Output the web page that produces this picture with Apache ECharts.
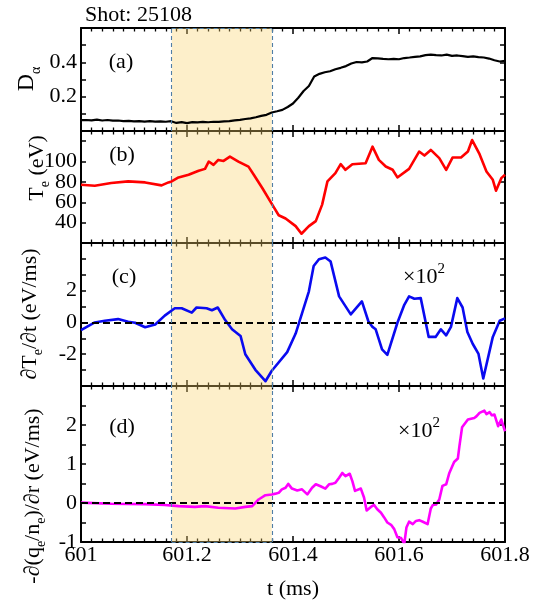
<!DOCTYPE html>
<html>
<head>
<meta charset="utf-8">
<script src="https://cdn.jsdelivr.net/npm/echarts@6/dist/echarts.min.js"></script>
<style>
  html, body { margin: 0; padding: 0; background: #ffffff; }
  #chart { width: 539px; height: 601px; }
</style>
</head>
<body>
<div id="chart"></div>
<script>
// ---- data ----------------------------------------------------------------
// shot and highlighted time window (ms)
const shotLabel = 'Shot: 25108';
const windowStart = 601.171;
const windowEnd = 601.36;

// (a) D-alpha signal
const tDa = [
  601.00, 601.01, 601.02, 601.03, 601.04, 601.05, 601.06, 601.07, 601.08, 601.09,
  601.10, 601.11, 601.12, 601.13, 601.14, 601.15, 601.16, 601.17, 601.18, 601.19,
  601.20, 601.21, 601.22, 601.23, 601.24, 601.25, 601.26, 601.27, 601.28, 601.29,
  601.30, 601.31, 601.32, 601.33, 601.34, 601.35, 601.36, 601.37, 601.38, 601.39,
  601.40, 601.41, 601.42, 601.43, 601.44, 601.45, 601.46, 601.47, 601.48, 601.49,
  601.50, 601.51, 601.52, 601.53, 601.54, 601.55, 601.56, 601.57, 601.58, 601.59,
  601.60, 601.61, 601.62, 601.63, 601.64, 601.65, 601.66, 601.67, 601.68, 601.69,
  601.70, 601.71, 601.72, 601.73, 601.74, 601.75, 601.76, 601.77, 601.78, 601.79,
  601.80
];
const dAlpha = [
  0.063, 0.064, 0.062, 0.066, 0.061, 0.064, 0.060, 0.061, 0.058, 0.059,
  0.056, 0.058, 0.055, 0.057, 0.055, 0.056, 0.054, 0.057, 0.047, 0.052,
  0.046, 0.052, 0.050, 0.053, 0.051, 0.054, 0.053, 0.056, 0.058, 0.062,
  0.065, 0.070, 0.074, 0.080, 0.088, 0.094, 0.108, 0.115, 0.123, 0.140,
  0.160, 0.194, 0.233, 0.262, 0.318, 0.333, 0.342, 0.348, 0.360, 0.368,
  0.378, 0.393, 0.402, 0.400, 0.405, 0.425, 0.423, 0.420, 0.418, 0.420,
  0.418, 0.425, 0.428, 0.432, 0.435, 0.442, 0.445, 0.442, 0.440, 0.445,
  0.438, 0.440, 0.436, 0.432, 0.435, 0.430, 0.428, 0.422, 0.412, 0.405,
  0.408
];

// (b) electron temperature, eV
const tTe = [
  601.000, 601.026, 601.057, 601.089, 601.121, 601.152, 601.165, 601.171, 601.184, 601.203,
  601.222, 601.234, 601.241, 601.250, 601.259, 601.269, 601.281, 601.297, 601.316, 601.326,
  601.342, 601.360, 601.373, 601.386, 601.405, 601.416, 601.430, 601.443, 601.455, 601.465,
  601.480, 601.490, 601.499, 601.512, 601.537, 601.550, 601.562, 601.575, 601.588, 601.597,
  601.619, 601.638, 601.648, 601.660, 601.676, 601.689, 601.701, 601.717, 601.730, 601.738,
  601.752, 601.765, 601.777, 601.783, 601.793, 601.800
];
const te = [
  77.2, 76.3, 78.9, 80.5, 79.5, 76.6, 79.5, 80.5, 84.4, 87.0,
  90.9, 92.8, 100.0, 96.7, 101.6, 100.6, 104.9, 100.0, 95.0, 87.0,
  74.0, 58.4, 47.3, 44.1, 36.6, 29.1, 36.6, 41.5, 57.7, 80.5,
  88.6, 97.4, 91.9, 97.4, 98.4, 114.6, 101.6, 95.1, 91.9, 84.4,
  92.8, 109.8, 105.9, 111.4, 103.3, 91.9, 103.9, 103.9, 109.8, 121.1,
  107.2, 90.2, 82.1, 71.4, 83.7, 87.0
];

// (c) dTe/dt, units of 1e2 eV/ms
const tDTe = [
  601.000, 601.026, 601.045, 601.070, 601.089, 601.102, 601.121, 601.140, 601.158, 601.177,
  601.190, 601.209, 601.218, 601.237, 601.247, 601.258, 601.272, 601.285, 601.301, 601.310,
  601.329, 601.348, 601.360, 601.389, 601.405, 601.417, 601.430, 601.439, 601.449, 601.461,
  601.471, 601.487, 601.509, 601.530, 601.542, 601.550, 601.556, 601.568, 601.578, 601.597,
  601.610, 601.619, 601.629, 601.641, 601.656, 601.669, 601.679, 601.689, 601.698, 601.710,
  601.720, 601.729, 601.739, 601.750, 601.759, 601.777, 601.790, 601.800
];
const dTeDt = [
  -0.49, 0.00, 0.11, 0.21, 0.04, -0.02, -0.30, -0.13, 0.43, 0.89,
  0.89, 0.62, 0.94, 0.89, 0.77, 0.94, 0.15, -0.43, -0.85, -2.00,
  -2.98, -3.70, -3.04, -1.87, -0.70, 0.57, 1.96, 3.55, 3.98, 4.09,
  3.83, 1.64, 0.51, 1.32, 0.09, -0.28, -0.43, -1.70, -2.04, -0.02,
  1.11, 1.64, 1.49, 1.53, -0.91, -0.91, -0.43, -0.81, -0.28, 1.53,
  0.94, -0.60, -1.34, -1.98, -3.53, -0.91, 0.11, 0.26
];

// (d) -d(qe/ne)/dr, units of 1e2 eV/ms
const tFlux = [
  601.000, 601.057, 601.121, 601.158, 601.184, 601.215, 601.234, 601.259, 601.291, 601.310,
  601.323, 601.335, 601.348, 601.360, 601.367, 601.373, 601.379, 601.386, 601.391, 601.398,
  601.408, 601.417, 601.427, 601.430, 601.436, 601.443, 601.452, 601.461, 601.468, 601.474,
  601.480, 601.487, 601.493, 601.499, 601.507, 601.512, 601.517, 601.528, 601.534, 601.539,
  601.547, 601.553, 601.559, 601.566, 601.572, 601.578, 601.585, 601.591, 601.597, 601.604,
  601.610, 601.614, 601.619, 601.626, 601.632, 601.638, 601.645, 601.654, 601.660, 601.664,
  601.670, 601.676, 601.682, 601.689, 601.695, 601.704, 601.711, 601.714, 601.719, 601.724,
  601.730, 601.742, 601.746, 601.752, 601.761, 601.765, 601.771, 601.775, 601.780, 601.787,
  601.793, 601.800
];
const fluxDiv = [
  0.01, -0.02, -0.03, -0.05, -0.08, -0.10, -0.08, -0.12, -0.14, -0.10,
  -0.08, 0.09, 0.20, 0.22, 0.24, 0.26, 0.35, 0.39, 0.49, 0.37,
  0.32, 0.35, 0.22, 0.18, 0.39, 0.48, 0.43, 0.37, 0.48, 0.49,
  0.52, 0.65, 0.77, 0.69, 0.75, 0.56, 0.31, 0.37, 0.14, -0.19,
  -0.10, -0.05, -0.16, -0.25, -0.37, -0.50, -0.56, -0.67, -0.88, -0.90,
  -1.04, -0.63, -0.48, -0.54, -0.46, -0.44, -0.48, -0.54, -0.14, -0.05,
  -0.04, 0.09, 0.44, 0.48, 0.77, 1.05, 1.14, 1.46, 1.94, 2.03,
  2.14, 2.18, 2.22, 2.31, 2.37, 2.28, 2.33, 2.25, 2.27, 1.97,
  2.14, 1.84
];

// axis ranges and labelled ticks
const xRange = [601, 601.8];
const yA = { min: 0, max: 0.6, step: 0.2, minor: 2, labels: [0.2, 0.4] };
const yB = { min: 20, max: 130, step: 20, minor: 0, labels: [40, 60, 80, 100] };
const yC = { min: -4, max: 5, step: 1, minor: 0, labels: [-2, 0, 2] };
const yD = { min: -1, max: 3, step: 0.5, minor: 0, labels: [-1, 0, 1, 2] };

// ---- styling helpers -----------------------------------------------------
const SERIF = '"Liberation Serif", "DejaVu Serif", serif';
const SHADE = 'rgba(249, 212, 109, 0.36)';
const EDGE = '#4f7ea6';

const pair = (ts, vs) => ts.map((t, i) => [t, vs[i]]);

const panels = [
  { top: 28, height: 103, y: yA, data: pair(tDa, dAlpha), color: '#000000', width: 2.2, zero: false },
  { top: 131, height: 112, y: yB, data: pair(tTe, te), color: '#ff0000', width: 2.6, zero: false },
  { top: 243, height: 143, y: yC, data: pair(tDTe, dTeDt), color: '#0a0af0', width: 2.6, zero: true },
  { top: 386, height: 157, y: yD, data: pair(tFlux, fluxDiv), color: '#ff00ff', width: 2.6, zero: true }
];

const grids = [], xAxes = [], yAxes = [], series = [];
const axisLine = { show: true, onZero: false, lineStyle: { color: '#000', width: 2 } };

panels.forEach((p, i) => {
  grids.push({ left: 81, right: 34, top: p.top, height: p.height });
  const first = i === 0;
  const last = i === panels.length - 1;
  ['bottom', 'top'].forEach((pos, k) => {
    xAxes.push({
      type: 'value', gridIndex: i, position: pos,
      min: xRange[0], max: xRange[1], interval: 0.2,
      axisLine,
      axisTick: { show: true, inside: true, length: 6, lineStyle: { color: '#000', width: 1.5 } },
      minorTick: { show: true, splitNumber: 10, length: 3.5, lineStyle: { color: '#000', width: 1.3 } },
      splitLine: { show: false },
      axisLabel: {
        show: last && k === 0, margin: 2, color: '#000',
        fontFamily: SERIF, fontSize: 22,
        formatter: v => String(+v.toFixed(1))
      },
      name: last && k === 0 ? 't (ms)' : '',
      nameLocation: 'middle', nameGap: 36,
      nameTextStyle: { fontFamily: SERIF, fontSize: 22, color: '#000' }
    });
  });
  ['left', 'right'].forEach((pos, k) => {
    const y = p.y;
    yAxes.push({
      type: 'value', gridIndex: i, position: pos,
      min: y.min, max: y.max, interval: y.step,
      axisLine,
      axisTick: { show: true, inside: true, length: 5, lineStyle: { color: '#000', width: 1.5 } },
      minorTick: { show: y.minor > 0, splitNumber: y.minor || 5, length: 5, lineStyle: { color: '#000', width: 1.5 } },
      splitLine: { show: false },
      axisLabel: {
        show: k === 0, margin: 4, color: '#000', fontFamily: SERIF, fontSize: 22,
        showMinLabel: true, showMaxLabel: true,
        formatter: v => (y.labels.some(l => Math.abs(l - v) < 1e-9) ? String(+v.toFixed(2)) : '')
      }
    });
  });

  const marks = [];
  if (p.zero) {
    marks.push({ yAxis: 0, lineStyle: { color: '#000', type: [7, 4], width: 2.2 } });
  }
  series.push({
    type: 'line', xAxisIndex: 2 * i, yAxisIndex: 2 * i,
    data: p.data, showSymbol: false, symbol: 'none', smooth: false,
    lineStyle: { color: p.color, width: p.width, join: 'round' },
    z: 3, silent: true, animation: false,
    markLine: marks.length ? {
      silent: true, symbol: 'none', animation: false,
      label: { show: false }, data: marks
    } : undefined
  });

  // dashed outline of the time window: sides in every panel, top and bottom on the outer panels
  const edges = [{ xAxis: windowStart }, { xAxis: windowEnd }];
  if (first) edges.push([{ xAxis: windowStart, yAxis: p.y.max }, { xAxis: windowEnd, yAxis: p.y.max }]);
  if (last) edges.push([{ xAxis: windowStart, yAxis: p.y.min }, { xAxis: windowEnd, yAxis: p.y.min }]);

  // translucent highlight of the time window, laid over the traces
  series.push({
    type: 'line', xAxisIndex: 2 * i, yAxisIndex: 2 * i,
    data: [], z: 10, silent: true, animation: false,
    markArea: {
      silent: true, animation: false,
      itemStyle: { color: SHADE },
      data: [[{ xAxis: windowStart }, { xAxis: windowEnd }]]
    },
    markLine: {
      silent: true, symbol: 'none', animation: false,
      label: { show: false },
      lineStyle: { color: EDGE, type: [4, 3], width: 1.1 },
      data: edges
    }
  });
});

// ---- text overlays ---------------------------------------------------------
const txt = (x, y, text, size, extra) => Object.assign({
  type: 'text', x, y, silent: true,
  style: { text, fill: '#000', font: `${size}px ${SERIF}`, align: 'center', verticalAlign: 'middle' }
}, extra || {});

const rot = Math.PI / 2;
const richBase = {
  m: { fontFamily: SERIF, fontSize: 22, lineHeight: 30, fill: '#000' },
  d: { fontFamily: SERIF, fontSize: 24, lineHeight: 32, fill: '#000' },
  s: { fontFamily: SERIF, fontSize: 14, lineHeight: 14, verticalAlign: 'bottom', fill: '#000' },
  p: { fontFamily: SERIF, fontSize: 15, lineHeight: 15, verticalAlign: 'top', fill: '#000' }
};
const richText = (x, y, text, rotation) => ({
  type: 'text', x, y, rotation: rotation || 0, silent: true,
  style: { text, rich: richBase, align: 'center', verticalAlign: 'middle', fill: '#000' }
});

const graphics = [
  { type: 'text', x: 85, y: 15, silent: true,
    style: { text: shotLabel, fill: '#000', font: `22px ${SERIF}`, align: 'left', verticalAlign: 'middle' } },
  txt(121, 62, '(a)', 22),
  txt(122, 155, '(b)', 22),
  txt(124, 277, '(c)', 22),
  txt(122, 427, '(d)', 22),
  richText(424, 277, '{m|×10}{p|2}'),
  richText(419, 431, '{m|×10}{p|2}'),
  // y-axis titles
  richText(27, 79, '{d|D}{s|α}', rot),
  richText(37, 168, '{m|T}{s|e}{m| (eV)}', rot),
  richText(30, 314, '{m|∂T}{s|e}{m|/∂t (eV/ms)}', rot),
  richText(33, 496, '{m|-∂(q}{s|e}{m|/n}{s|e}{m|)/∂r (eV/ms)}', rot)
];

const chart = echarts.init(document.getElementById('chart'), null, { renderer: 'canvas' });
chart.setOption({
  animation: false,
  backgroundColor: '#ffffff',
  grid: grids,
  xAxis: xAxes,
  yAxis: yAxes,
  series,
  graphic: graphics
});
</script>
</body>
</html>
